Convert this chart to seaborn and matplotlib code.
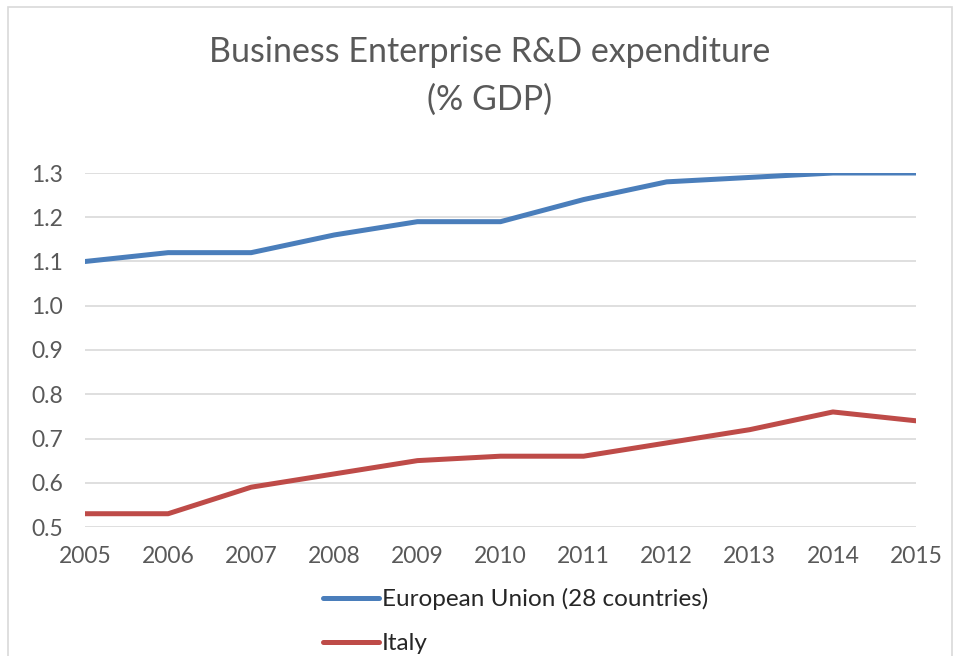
import matplotlib
matplotlib.use("Agg")
import matplotlib.pyplot as plt
import seaborn as sns
import pandas as pd
from matplotlib.patches import Rectangle

years = [2005, 2006, 2007, 2008, 2009, 2010, 2011, 2012, 2013, 2014, 2015]
eu = [1.10, 1.12, 1.12, 1.16, 1.19, 1.19, 1.24, 1.28, 1.29, 1.30, 1.30]
italy = [0.53, 0.53, 0.59, 0.62, 0.65, 0.66, 0.66, 0.69, 0.72, 0.76, 0.74]
series_names = ["European Union (28 countries)", "Italy"]
yticks = [0.5, 0.6, 0.7, 0.8, 0.9, 1.0, 1.1, 1.2, 1.3]

df = pd.DataFrame({
    "year": years * 2,
    "value": eu + italy,
    "series": [series_names[0]] * len(years) + [series_names[1]] * len(years),
})

sns.set_style("white")
plt.rcParams['font.family'] = ['Lato', 'DejaVu Sans']

fig = plt.figure(figsize=(9.58, 6.56), dpi=100)
ax = fig.add_axes([85/958, 1 - 527/656, 831/958, 354/656])

sns.lineplot(data=df, x="year", y="value", hue="series",
             palette={series_names[0]: "#4a7ebb", series_names[1]: "#be4b48"},
             linewidth=3.6, ax=ax, legend=True)
for ln in ax.lines:
    ln.set_solid_capstyle("round")
    ln.set_solid_joinstyle("round")

ax.set_xlim(2005, 2015)
ax.set_ylim(0.5, 1.3)
ax.set_yticks(yticks)
ax.set_yticklabels([f"{v:.1f}" for v in yticks])
ax.set_xticks(years)
ax.set_xticklabels([str(y) for y in years])
ax.grid(axis="y", color="#d9d9d9", linewidth=1.2)
ax.set_axisbelow(True)
for s in ax.spines.values():
    s.set_visible(False)
ax.tick_params(axis="both", length=0, labelsize=16.5, labelcolor="#595959")
ax.tick_params(axis="y", pad=16)
ax.tick_params(axis="x", pad=14)
ax.set_xlabel("")
ax.set_ylabel("")

handles, labels = ax.get_legend_handles_labels()
ax.legend(handles, labels, loc="upper left", bbox_to_anchor=(323/958, 1 - 588/656),
          bbox_transform=fig.transFigure, frameon=False, fontsize=17.5,
          handlelength=2.3, handletextpad=0.12, labelspacing=0.95, borderpad=0,
          borderaxespad=0)

fig.text(490/958, 1 - 52/656, "Business Enterprise R&D expenditure", ha="center", va="center",
         fontsize=24.5, color="#595959")
fig.text(490/958, 1 - 100/656, "(% GDP)", ha="center", va="center",
         fontsize=24.5, color="#595959")

fig.patches.append(Rectangle((8/958, -0.1), (952-8)/958, 1 - 7/656 + 0.1,
                             transform=fig.transFigure, fill=False,
                             edgecolor="#d9d9d9", linewidth=1.2))

fig.savefig("out.png", dpi=100)
